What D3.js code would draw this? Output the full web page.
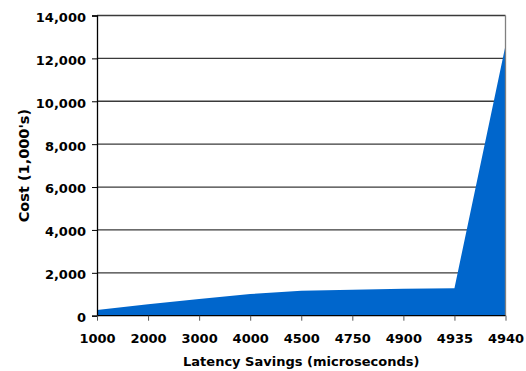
<!DOCTYPE html>
<html>
<head>
<meta charset="utf-8">
<script src="https://cdn.jsdelivr.net/npm/d3@7"></script>
<style>
  html, body { margin: 0; padding: 0; background: #fff; }
  svg { display: block; }
  text { font-family: "DejaVu Sans", Verdana, sans-serif; font-weight: bold; fill: #000; }
</style>
</head>
<body>
<svg id="chart" width="526" height="371"></svg>
<script>
// Latency savings (microseconds) against cost in thousands
const categories = ["1000", "2000", "3000", "4000", "4500", "4750", "4900", "4935", "4940"];
const costValues = [270, 530, 780, 1010, 1160, 1210, 1255, 1285, 12600];
const yTicks = [0, 2000, 4000, 6000, 8000, 10000, 12000, 14000];
const xTitle = "Latency Savings (microseconds)";
const yTitle = "Cost (1,000's)";

const svg = d3.select("#chart");
const margin = { left: 97, right: 20.5, top: 15.5, bottom: 55.3 };
const W = 526, H = 371;
const x0 = margin.left, x1 = W - margin.right;
const y0 = H - margin.bottom, y1 = margin.top;

const x = d3.scalePoint().domain(categories).range([x0, x1]);
const y = d3.scaleLinear().domain([0, 14000]).range([y0, y1]);

// horizontal gridlines
svg.append("g")
  .selectAll("line")
  .data(yTicks.slice(1))
  .join("line")
  .attr("x1", x0).attr("x2", x1)
  .attr("y1", d => y(d)).attr("y2", d => y(d))
  .attr("stroke", "#3a3a3a")
  .attr("stroke-width", 1.3);

// cost area
const area = d3.area()
  .x((d, i) => x(categories[i]))
  .y0(y(0))
  .y1(d => y(d));

svg.append("path")
  .datum(costValues)
  .attr("d", area)
  .attr("fill", "#0066CC");

// right border of the plot
svg.append("line")
  .attr("x1", x1).attr("x2", x1)
  .attr("y1", y1).attr("y2", y0)
  .attr("stroke", "#808080")
  .attr("stroke-width", 1.3);

// y axis
const yAxis = d3.axisLeft(y)
  .tickValues(yTicks)
  .tickSize(5)
  .tickPadding(6)
  .tickFormat(d3.format(","));
const gy = svg.append("g")
  .attr("transform", `translate(${x0},0)`)
  .call(yAxis);
gy.select(".domain").attr("stroke", "#000").attr("stroke-width", 1.3);
gy.selectAll(".tick line").attr("stroke", "#000");
gy.selectAll(".tick text")
  .attr("font-size", 13)
  .attr("dy", "0.45em")
  .attr("font-family", "DejaVu Sans, Verdana, sans-serif")
  .attr("font-weight", "bold");

// x axis
const xAxis = d3.axisBottom(x).tickSize(5).tickPadding(13);
const gx = svg.append("g")
  .attr("transform", `translate(0,${y0})`)
  .call(xAxis);
gx.select(".domain").attr("stroke", "#000").attr("stroke-width", 1.3)
  .attr("d", `M${x0},0H${x1}`);
gx.selectAll(".tick line").attr("stroke", "#555");
gx.selectAll(".tick text")
  .attr("font-size", 13)
  .attr("font-family", "DejaVu Sans, Verdana, sans-serif")
  .attr("font-weight", "bold");

// axis titles
svg.append("text")
  .attr("x", (x0 + x1) / 2)
  .attr("y", 366)
  .attr("text-anchor", "middle")
  .attr("font-size", 13)
  .text(xTitle);

svg.append("text")
  .attr("transform", `translate(28.5,${(y0 + y1) / 2}) rotate(-90)`)
  .attr("text-anchor", "middle")
  .attr("font-size", 14.5)
  .text(yTitle);
</script>
</body>
</html>
